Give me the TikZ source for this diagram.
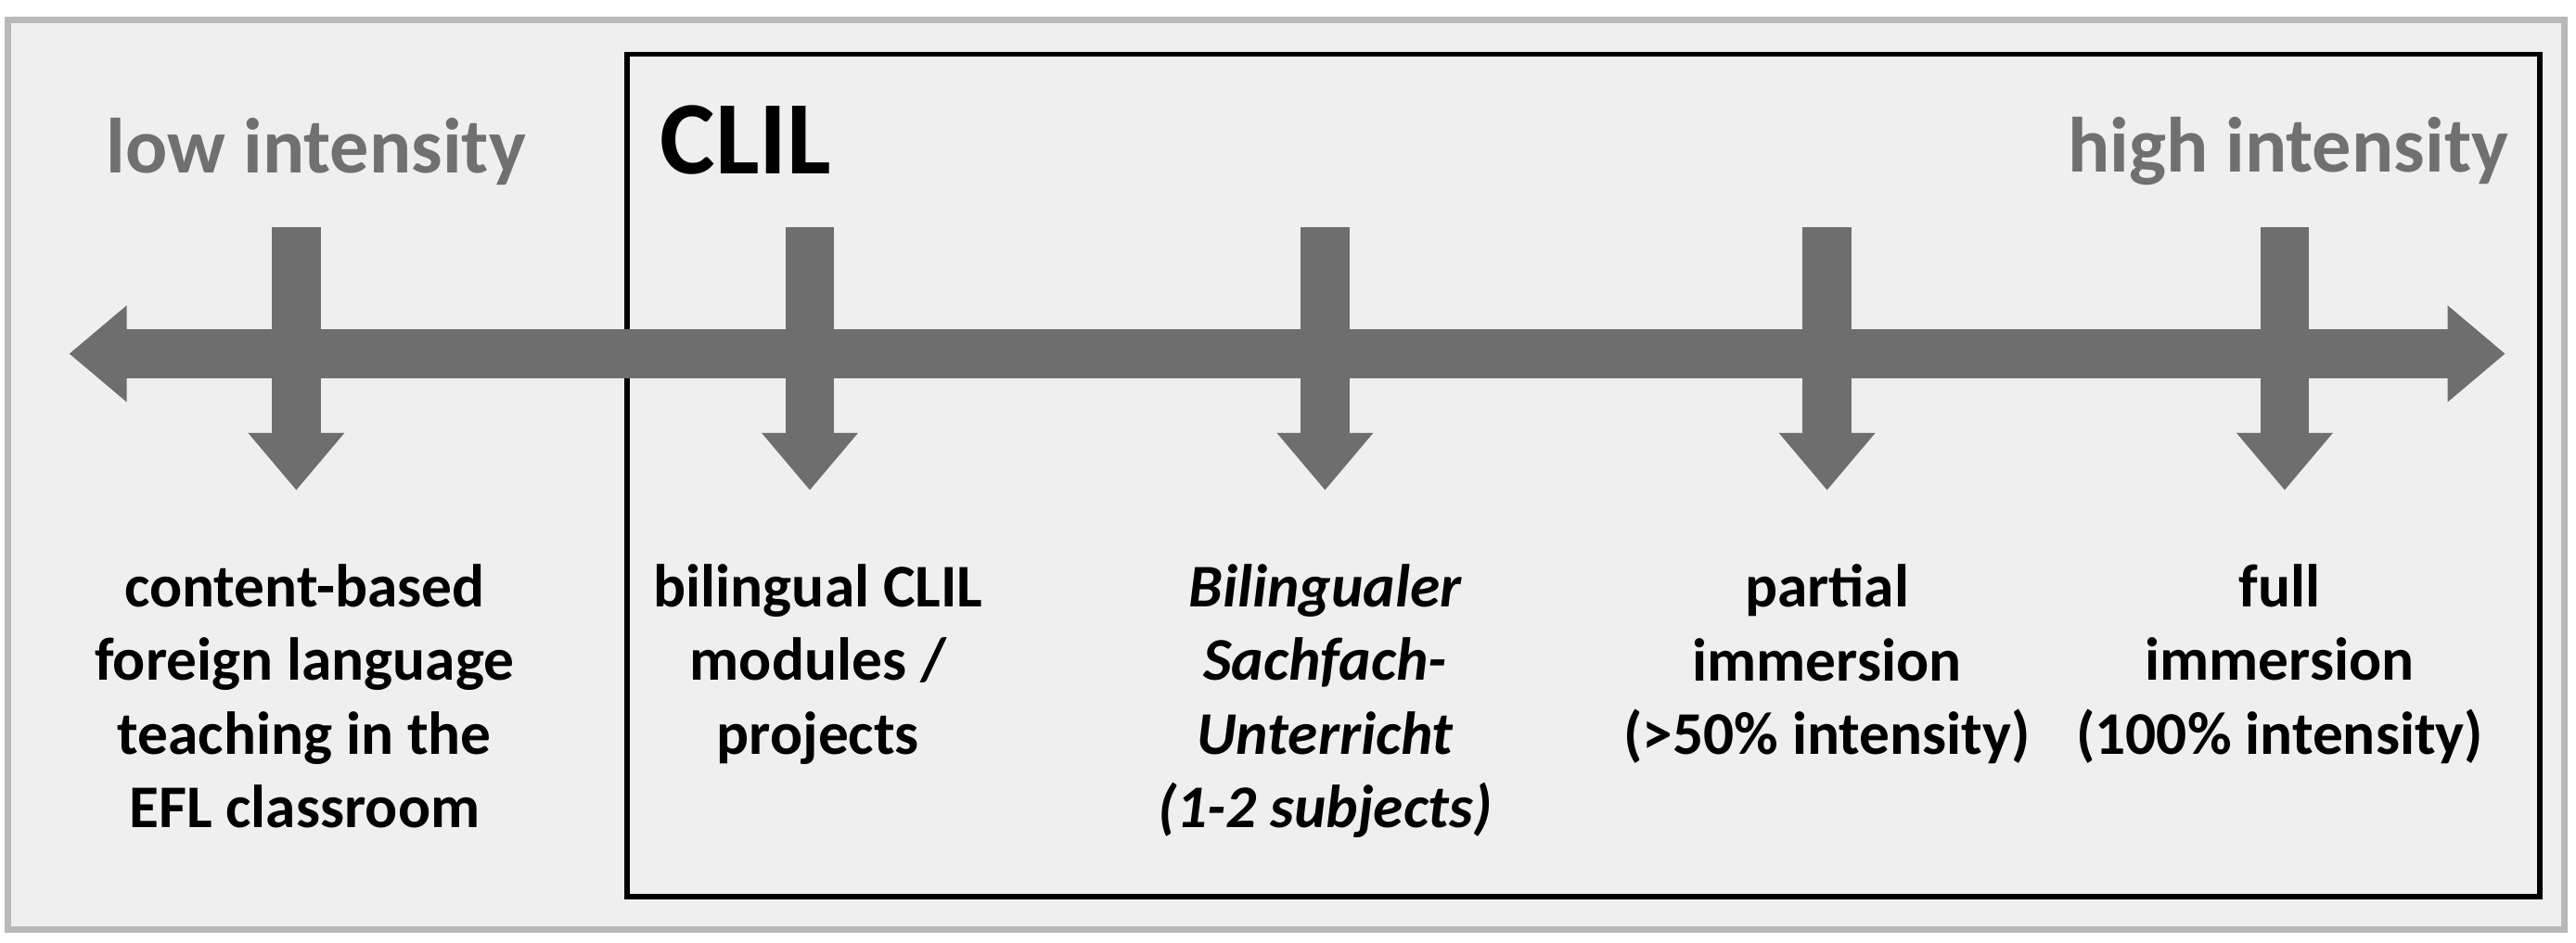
\documentclass[tikz,border=0pt]{standalone}
\usepackage{fontspec}
\setmainfont{Carlito}
\usetikzlibrary{arrows.meta, positioning}

\definecolor{bargray}{HTML}{6E6E6E}
\definecolor{panelgray}{HTML}{EFEFEF}
\definecolor{headgray}{HTML}{707070}

\tikzset{
  bar/.style={bargray, line width=15pt, -{Triangle[length=0.62cm, width=1.0cm]}},
  duobar/.style={bargray, line width=15pt, {Triangle[length=0.62cm, width=1.0cm]}-{Triangle[length=0.62cm, width=1.0cm]}},
  label/.style={align=center, font=\fontsize{18.6}{22.6}\selectfont\bfseries, anchor=north},
  heading/.style={font=\fontsize{24}{28}\selectfont\bfseries, headgray}
}

\begin{document}
\begin{tikzpicture}[x=0.01775cm, y=-0.01775cm]
    \useasboundingbox (0,0) rectangle (1565,573);

    % Panels
    \draw[gray!55, line width=2pt, fill=panelgray] (5,12) rectangle (1558,565);
    \draw[black, line width=1.6pt] (381,33) rectangle (1543,545);

    % Headings
    \node[heading] (low) at (192,92) {low intensity};
    \node[heading] (high) at (1390,92) {high intensity};
    \node[font=\fontsize{32}{36}\selectfont\bfseries] (clil) at (453,85) {CLIL};

    % Scale
    \coordinate (left) at (42,215);
    \coordinate (right) at (1522,215);
    \draw[duobar] (left) -- (right);

    % Levels
    \node[label] (cbflt) at (185,336) {content-based\\foreign language\\teaching in the\\EFL classroom};
    \node[label] (modules) at (497,336) {bilingual CLIL\\modules /\\projects};
    \node[label] (bsu) at (805,336) {\itshape Bilingualer\\\itshape Sachfach-\\\itshape Unterricht\\\itshape (1-2 subjects)};
    \node[label] (partial) at (1110,336) {partial\\immersion\\(>50\% intensity)};
    \node[label] (full) at (1385,336) {full\\immersion\\(100\% intensity)};

    \foreach \x/\n in {180/cbflt, 492/modules, 805/bsu, 1110/partial, 1388/full} {
        \coordinate (top-\n) at (\x,138);
        \coordinate (tip-\n) at (\x,298);
        \draw[bar] (top-\n) -- (tip-\n);
    }
\end{tikzpicture}
\end{document}
